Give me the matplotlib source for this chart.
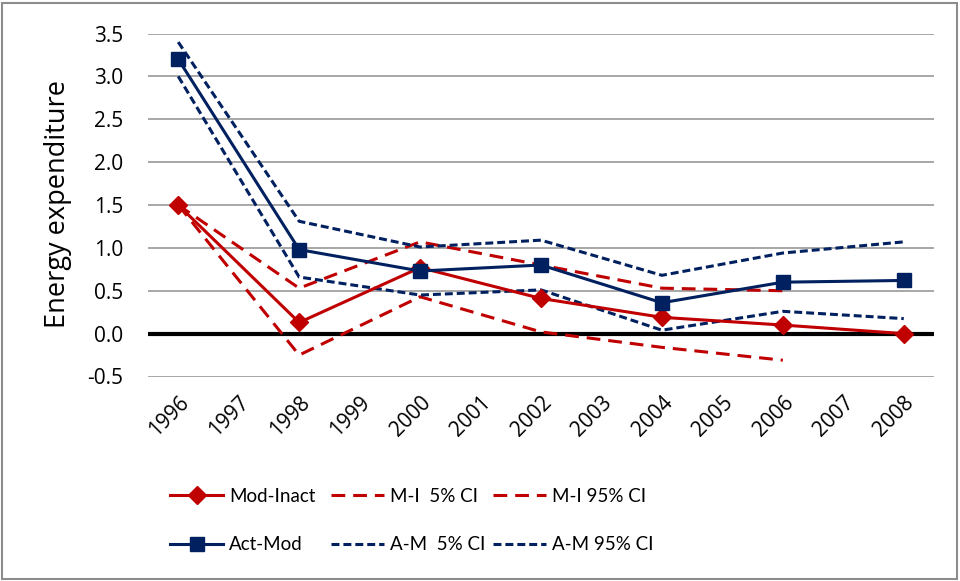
import matplotlib
matplotlib.use("Agg")
import matplotlib.pyplot as plt
import numpy as np
from matplotlib.patches import Rectangle

plt.rcParams['font.family'] = ['Open Sans', 'DejaVu Sans']

years = ['1996', '1997', '1998', '1999', '2000', '2001', '2002',
         '2003', '2004', '2005', '2006', '2007', '2008']
data_years = ['1996', '1998', '2000', '2002', '2004', '2006', '2008']
ci_years_mi = ['1996', '1998', '2000', '2002', '2004', '2006']

mod_inact = [1.50, 0.13, 0.77, 0.41, 0.19, 0.10, 0.00]
mi_5 = [1.50, -0.25, 0.43, 0.02, -0.16, -0.31]
mi_95 = [1.50, 0.53, 1.07, 0.80, 0.53, 0.50]

act_mod = [3.20, 0.98, 0.73, 0.80, 0.36, 0.60, 0.62]
am_5 = [3.00, 0.66, 0.45, 0.51, 0.04, 0.26, 0.175]
am_95 = [3.40, 1.31, 1.01, 1.09, 0.68, 0.94, 1.07]

yticks = [-0.5, 0.0, 0.5, 1.0, 1.5, 2.0, 2.5, 3.0, 3.5]

RED = '#C00000'
NAVY = '#002060'
LW = 2.2
RED_DASH = (4.5, 2.6)
NAVY_DASH = (2.6, 1.3)

W, H = 960, 581
fig = plt.figure(figsize=(W/100, H/100), dpi=100)
ax = fig.add_axes([148/W, 1-376.5/H, (934-148)/W, (376.5-33.5)/H])

xpos = {y: i for i, y in enumerate(years)}
xd = [xpos[y] for y in data_years]
xmi = [xpos[y] for y in ci_years_mi]

for yv in yticks:
    if yv != 0:
        ax.axhline(yv, color='#a0a0a0', lw=1.3, zorder=0)
ax.axhline(0, color='black', lw=3, zorder=1)

h_mi5, = ax.plot(xmi, mi_5, color=RED, lw=LW, dashes=RED_DASH, label='M-I  5% CI', zorder=2)
h_mi95, = ax.plot(xmi, mi_95, color=RED, lw=LW, dashes=RED_DASH, label='M-I 95% CI', zorder=2)
h_am5, = ax.plot(xd, am_5, color=NAVY, lw=LW, dashes=NAVY_DASH, label='A-M  5% CI', zorder=2)
h_am95, = ax.plot(xd, am_95, color=NAVY, lw=LW, dashes=NAVY_DASH, label='A-M 95% CI', zorder=2)
h_mi, = ax.plot(xd, mod_inact, color=RED, lw=LW, marker='D', ms=9.5, label='Mod-Inact', zorder=3)
h_am, = ax.plot(xd, act_mod, color=NAVY, lw=LW, marker='s', ms=10, label='Act-Mod', zorder=4)

ax.set_xlim(-0.5, len(years) - 0.5)
ax.set_ylim(-0.5, 3.5)
ax.set_yticks(yticks)
ax.set_yticklabels([f'{v:.1f}' for v in yticks], fontsize=15)
ax.set_xticks(range(len(years)))
ax.set_xticklabels(years, fontsize=15, rotation=45, ha='right', rotation_mode='anchor')
ax.tick_params(axis='both', length=0)
ax.tick_params(axis='y', pad=18)
ax.tick_params(axis='x', pad=11)
for s in ax.spines.values():
    s.set_visible(False)

fig.text(58/W, 1-204.5/H, 'Energy expenditure', rotation=90, ha='center', va='center',
         fontsize=19.5)

LEG_FS = 13.5
leg_px = LEG_FS * 100 / 72
col_x = [170, 331, 493]
row_y = [496, 545]
layout = [[h_mi, h_mi5, h_mi95], [h_am, h_am5, h_am95]]
for r, row in enumerate(layout):
    for c, h in enumerate(row):
        fig.legend(handles=[h], loc='center left',
                   bbox_to_anchor=(col_x[c]/W, 1-row_y[r]/H),
                   frameon=False, prop={'family': ['Lato', 'DejaVu Sans'], 'size': LEG_FS},
                   handlelength=53/leg_px, handletextpad=6/leg_px,
                   borderpad=0, borderaxespad=0)

fig.patches.append(Rectangle((2/W, 2/H), 1-5/W, 1-5/H, transform=fig.transFigure,
                             fill=False, edgecolor='#8c8c8c', lw=1.5))

fig.savefig('out.png', dpi=100)
